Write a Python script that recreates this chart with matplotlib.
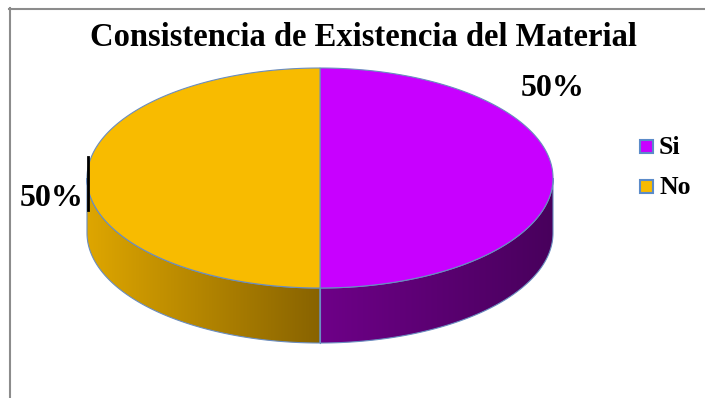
import numpy as np
import matplotlib.pyplot as plt
from matplotlib.patches import Polygon, Rectangle
from matplotlib.colors import to_rgb

labels = ['Si', 'No']
values = [50, 50]
top_colors = ['#C800FF', '#F8BB00']
# side shading: (left colour, right colour) for each slice
side_colors = [('#6E0088', '#48005C'), ('#DEA600', '#886300')]

plt.rcParams['font.family'] = ['Liberation Serif', 'DejaVu Serif']

W, H = 705, 398
fig = plt.figure(figsize=(W / 100, H / 100), dpi=100)
ax = fig.add_axes([0, 0, 1, 1])
ax.set_xlim(0, W)
ax.set_ylim(H, 0)
ax.axis('off')

# pie geometry in pixel units
cx, cy = 320, 178
a, b = 233, 110
depth = 55
edge = '#6A8DC0'


def rim(t):
    t = np.radians(t)
    return cx + a * np.cos(t), cy - b * np.sin(t)


# slice angles, starting at 12 o'clock and going clockwise
total = float(sum(values))
spans = []
start = 90.0
for v in values:
    sweep = 360.0 * v / total
    spans.append((start - sweep, start))
    start -= sweep

# side walls (only the front half of the disc is visible)
for (t1, t2), (c0, c1) in zip(spans, side_colors):
    t1n = t1 % 360
    t2n = t1n + (t2 - t1)
    lo, hi = max(t1n, 180), min(t2n, 360)
    if hi <= lo:
        continue
    ts = np.linspace(lo, hi, 200)
    ux, uy = rim(ts)
    px = np.concatenate([ux, ux[::-1]])
    py = np.concatenate([uy, uy[::-1] + depth])
    poly = Polygon(np.column_stack([px, py]), closed=True,
                   facecolor='none', edgecolor=edge, lw=0.8, zorder=3)
    ax.add_patch(poly)
    x0, x1 = px.min(), px.max()
    y0, y1 = py.min(), py.max()
    n = 256
    f = np.linspace(0, 1, n)[None, :, None]
    grad = (1 - f) * np.array(to_rgb(c0)) + f * np.array(to_rgb(c1))
    grad = np.repeat(grad, 2, axis=0)
    im = ax.imshow(grad, extent=[x0, x1, y1, y0], aspect='auto',
                   interpolation='bilinear', zorder=2)
    clip = Polygon(np.column_stack([px, py]), closed=True,
                   facecolor='none', edgecolor='none', transform=ax.transData)
    ax.add_patch(clip)
    im.set_clip_path(clip)

# top faces
for (t1, t2), col in zip(spans, top_colors):
    ts = np.linspace(t1, t2, 300)
    ux, uy = rim(ts)
    pts = np.column_stack([np.r_[cx, ux], np.r_[cy, uy]])
    ax.add_patch(Polygon(pts, closed=True, facecolor=col,
                         edgecolor=edge, lw=0.8, zorder=4))

# vertical edge where the slices meet at the front
fx, fy = rim(270)
ax.plot([fx, fx], [fy, fy + depth], color=edge, lw=0.8, zorder=5)

# data labels
pct = [f'{round(100 * v / total):.0f}%' for v in values]
ax.text(553, 88, pct[0], fontsize=23, fontweight='bold',
        ha='center', va='center', zorder=6)
ax.text(52, 198, pct[1], fontsize=23, fontweight='bold',
        ha='center', va='center', zorder=6)
ax.plot([88, 88], [157, 210], color='black', lw=2, zorder=6)

ax.text(363, 38, 'Consistencia de Existencia del Material', fontsize=23.5,
        fontweight='bold', ha='center', va='center')

# legend
for i, (lab, col) in enumerate(zip(labels, top_colors)):
    y = 147 + 40 * i
    ax.add_patch(Rectangle((640, y - 7), 13, 13, facecolor=col,
                           edgecolor='#5B8BC9', lw=1.5))
    ax.text(659, y, lab, fontsize=18.5, fontweight='bold', va='center')

# chart frame
ax.plot([9, W], [8.5, 8.5], color='#8C8C8C', lw=1.5)
ax.plot([9.5, 9.5], [8, H], color='#8C8C8C', lw=1.5)

fig.savefig('out.png', dpi=100)
